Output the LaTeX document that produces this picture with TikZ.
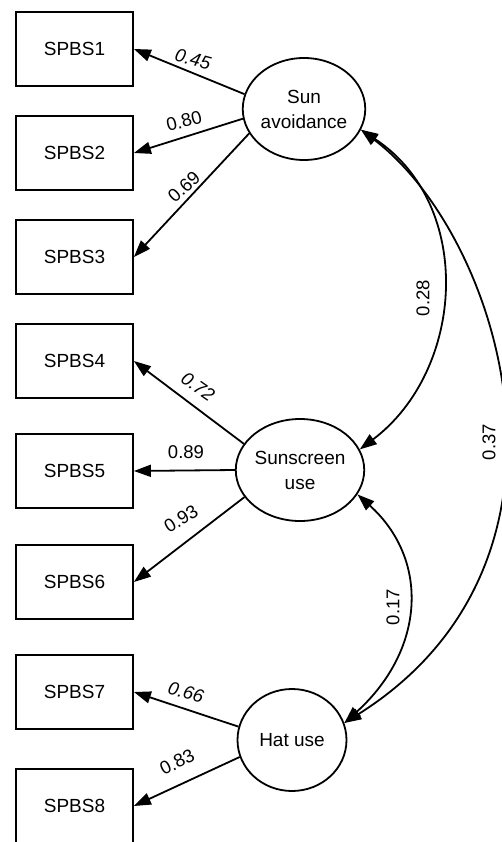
\documentclass[tikz,border=0pt]{standalone}
\usepackage{fontspec}
\setmainfont{Liberation Sans}
\usetikzlibrary{shapes.geometric,arrows.meta}
\begin{document}
\begin{tikzpicture}[x=1pt,y=-1pt,
  box/.style={draw,line width=1.8pt,minimum width=117pt,minimum height=74pt,inner sep=0pt,font=\fontsize{19}{23}\selectfont},
  lat/.style={draw,ellipse,line width=1.8pt,minimum width=109pt,minimum height=102pt,inner sep=0pt,align=center,font=\fontsize{19}{25}\selectfont},
  ld/.style={line width=1.8pt,-{Triangle[length=17pt,width=12pt]}},
  cov/.style={line width=1.8pt,{Triangle[length=17pt,width=12pt]}-{Triangle[length=17pt,width=12pt]}},
  lbl/.style={inner sep=0pt,font=\fontsize{18.5}{20}\selectfont},
  lbli/.style={inner sep=0pt,font=\fontsize{18.5}{20}\selectfont\itshape}]
\path[use as bounding box] (0,0) rectangle (501,842);
% observed variables
\node[box] (b1) at (74.5,49) {SPBS1};
\node[box] (b2) at (74.5,153) {SPBS2};
\node[box] (b3) at (74.5,257) {SPBS3};
\node[box] (b4) at (74.5,361) {SPBS4};
\node[box] (b5) at (74.5,471) {SPBS5};
\node[box] (b6) at (74.5,582) {SPBS6};
\node[box] (b7) at (74.5,692) {SPBS7};
\node[box] (b8) at (74.5,806) {SPBS8};
% latent variables
\node[lat] (sun) at (304,109) {Sun\\avoidance};
\node[lat] (sc) at (300,470) {Sunscreen\\use};
\node[lat] (hat) at (292,740) {Hat use};
% loadings
\draw[ld] (sun.166) -- (b1.east);
\draw[ld] (sun.-171) -- (b2.east);
\draw[ld] (sun.-156) -- (b3.east);
\draw[ld] (sc.155) -- (b4.east);
\draw[ld] (sc.180) -- (b5.east);
\draw[ld] (sc.-154) -- (b6.east);
\draw[ld] (hat.166) -- (b7.east);
\draw[ld] (hat.-162) -- (b8.east);
% loading labels
\node[lbli,rotate=-15] (l1) at (193,59) {0.45};
\node[lbl,rotate=15] (l2) at (184,121) {0.80};
\node[lbl,rotate=42] (l3) at (184,187) {0.69};
\node[lbli,rotate=-35] (l4) at (198,387) {0.72};
\node[lbl] (l5) at (186,452) {0.89};
\node[lbl,rotate=32] (l6) at (181,519) {0.93};
\node[lbli,rotate=-16] (l7) at (186,692) {0.66};
\node[lbl,rotate=27] (l8) at (177,762) {0.83};
% covariances
\draw[cov] (sun.-20) .. controls (475,205) and (465,370) .. (sc.19);
\draw[cov] (sun.-20) .. controls (500,235) and (603,560) .. (hat.18);
\draw[cov] (sc.-23) .. controls (430,560) and (425,650) .. (hat.18);
\node[lbl,rotate=90] (c1) at (423,298) {0.28};
\node[lbl,rotate=90] (c2) at (489,442) {0.37};
\node[lbl,rotate=90] (c3) at (393,607) {0.17};
\end{tikzpicture}
\end{document}
